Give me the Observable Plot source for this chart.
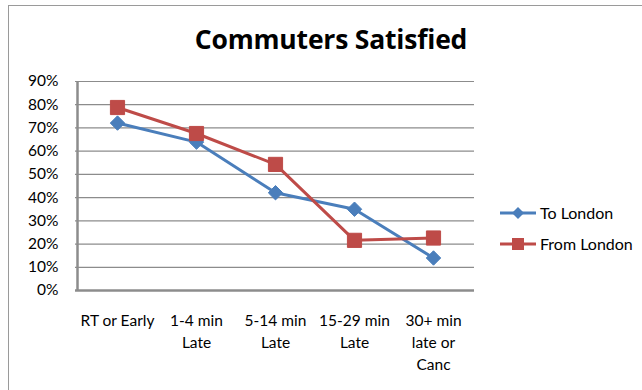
<!DOCTYPE html>
<html>
<head>
<meta charset="utf-8">
<script src="https://cdn.jsdelivr.net/npm/d3@7"></script>
<script src="https://cdn.jsdelivr.net/npm/@observablehq/plot@0.6"></script>
<style>
  html, body { margin: 0; padding: 0; background: #fff; }
  #chart { position: relative; width: 642px; height: 390px; overflow: hidden; font-family: Lato, "Open Sans", sans-serif; }
  #frame { position: absolute; left: 8px; top: 5px; right: -4px; bottom: -4px; border-left: 1.5px solid #9a9a9a; border-top: 1.5px solid #9a9a9a; }
  #title { position: absolute; left: 0; width: 662px; top: 26px; line-height: 26px; text-align: center; font-family: "Open Sans", Lato, sans-serif; font-weight: bold; font-size: 26.5px; color: #000; letter-spacing: -0.2px; }
  #legend { position: absolute; left: 500px; top: 197px; font-size: 16px; color: #000; }
  .item { display: flex; align-items: center; height: 31px; }
  .item svg { margin-right: 4px; }
  #plot { position: absolute; left: 0; top: 0; }
</style>
</head>
<body>
<div id="chart">
  <div id="frame"></div>
  <div id="title">Commuters Satisfied</div>
  <div id="plot"></div>
  <div id="legend"></div>
</div>
<script>
// Share of commuters satisfied, by punctuality of the train
const categories = ["RT or Early", "1-4 min Late", "5-14 min Late", "15-29 min Late", "30+ min late or Canc"];
const tickLabels = ["RT or Early", "1-4 min\nLate", "5-14 min\nLate", "15-29 min\nLate", "30+ min\nlate or\nCanc"];
const toLondon = [0.721, 0.639, 0.421, 0.350, 0.140];
const fromLondon = [0.788, 0.676, 0.543, 0.216, 0.226];
const yTicks = [0, 0.1, 0.2, 0.3, 0.4, 0.5, 0.6, 0.7, 0.8, 0.9];

const seriesNames = ["To London", "From London"];
const colors = ["#4a7ebb", "#be4b48"];

const rows = [];
categories.forEach((c, i) => {
  rows.push({category: c, value: toLondon[i], series: seriesNames[0]});
  rows.push({category: c, value: fromLondon[i], series: seriesNames[1]});
});
const toRows = rows.filter(d => d.series === seriesNames[0]);
const fromRows = rows.filter(d => d.series === seriesNames[1]);
const labelOf = new Map(categories.map((c, i) => [c, tickLabels[i]]));

const plot = Plot.plot({
  width: 642,
  height: 390,
  marginLeft: 75,
  marginRight: 168,
  marginTop: 81,
  marginBottom: 100,
  style: {fontFamily: "Lato, 'Open Sans', sans-serif", fontSize: "15.5px", color: "#000", background: "transparent"},
  x: {type: "point", domain: categories, padding: 0.5},
  y: {domain: [0, 0.9]},
  marks: [
    Plot.gridY(yTicks, {stroke: "#8c8c8c", strokeOpacity: 1, strokeWidth: 1.2}),
    Plot.axisY(yTicks, {tickFormat: d => Math.round(d * 100) + "%", tickSize: 0, tickPadding: 17, label: null, fill: "#000", fontSize: 15.5}),
    Plot.axisX({tickFormat: d => labelOf.get(d), tickSize: 0, tickPadding: 20, lineHeight: 1.42, label: null, fill: "#000", textAnchor: "middle", fontSize: 15.5}),
    Plot.ruleX([0], {x: () => categories[0], dx: -40, stroke: "#8c8c8c", strokeWidth: 2.5, y1: 0, y2: 0.9}),
    Plot.ruleY([0], {stroke: "#8c8c8c", strokeWidth: 2.5}),
    Plot.line(toRows, {x: "category", y: "value", stroke: colors[0], strokeWidth: 3}),
    Plot.line(fromRows, {x: "category", y: "value", stroke: colors[1], strokeWidth: 3}),
    Plot.dot(toRows, {x: "category", y: "value", symbol: "diamond2", r: 6.5, fill: colors[0], stroke: colors[0], strokeWidth: 1}),
    Plot.dot(fromRows, {x: "category", y: "value", symbol: "square", r: 8, fill: colors[1], stroke: colors[1], strokeWidth: 1})
  ]
});
document.getElementById("plot").appendChild(plot);

// Legend: line segment with the series marker, then the series name
const legend = d3.select("#legend");
seriesNames.forEach((name, i) => {
  const item = legend.append("div").attr("class", "item");
  const svg = item.append("svg").attr("width", 36).attr("height", 16);
  svg.append("line").attr("x1", 0).attr("x2", 36).attr("y1", 8).attr("y2", 8)
    .attr("stroke", colors[i]).attr("stroke-width", 3);
  if (i === 0) {
    svg.append("path").attr("d", "M18,2 L24,8 L18,14 L12,8 Z").attr("fill", colors[i]);
  } else {
    svg.append("rect").attr("x", 12).attr("y", 2).attr("width", 12).attr("height", 12).attr("fill", colors[i]);
  }
  item.append("span").text(name);
});
</script>
</body>
</html>
